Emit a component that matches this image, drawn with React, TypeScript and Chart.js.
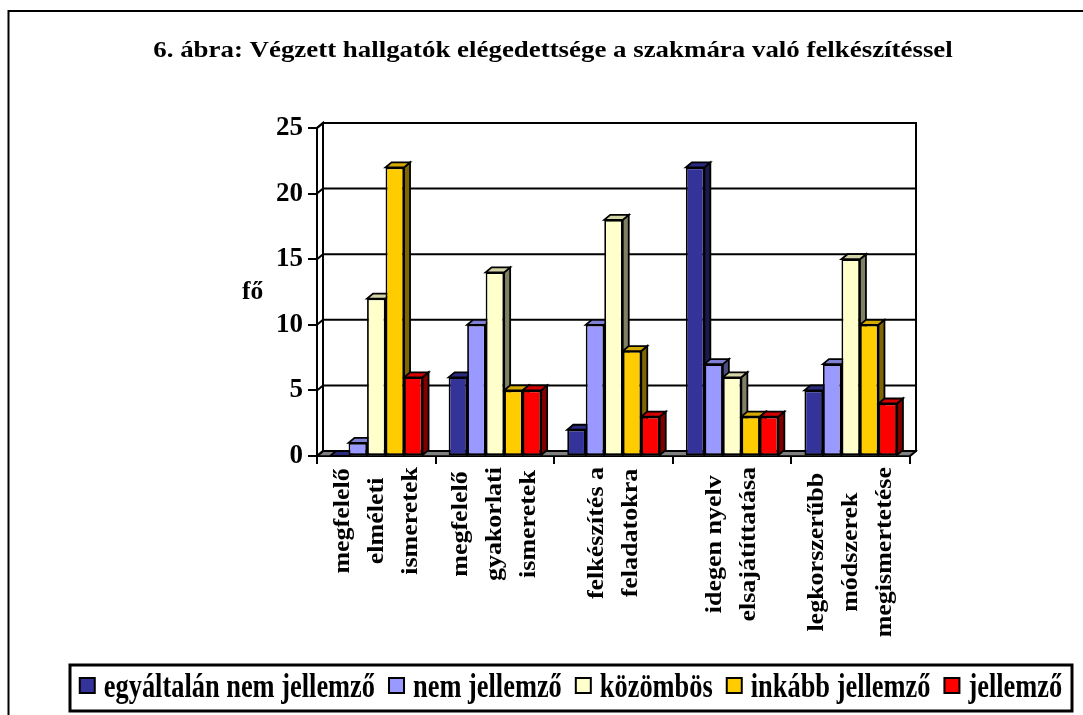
import React, { useEffect, useRef } from "react";
import { Chart, registerables } from "chart.js";
Chart.register(...registerables);

const FONT = '"Liberation Serif", "Times New Roman", Times, serif';

const titleText = "6. ábra: Végzett hallgatók elégedettsége a szakmára való felkészítéssel";
const yAxisTitle = "fő";
const categories: string[][] = [
  ["megfelelő", "elméleti", "ismeretek"],
  ["megfelelő", "gyakorlati", "ismeretek"],
  ["felkészítés a", "feladatokra"],
  ["idegen nyelv", "elsajátíttatása"],
  ["legkorszerűbb", "módszerek", "megismertetése"],
];
const seriesNames = ["egyáltalán nem jellemző", "nem jellemző", "közömbös", "inkább jellemző", "jellemző"];
const seriesColors = ["#333399", "#9999FF", "#FFFFCC", "#FFCC00", "#FF0000"];
const egyaltalanNem = [0, 6, 2, 22, 5];
const nemJellemzo = [1, 10, 10, 7, 7];
const kozombos = [12, 14, 18, 6, 15];
const inkabbJellemzo = [22, 5, 8, 3, 10];
const jellemzo = [6, 5, 3, 3, 4];
const seriesValues = [egyaltalanNem, nemJellemzo, kozombos, inkabbJellemzo, jellemzo];
const yMin = 0;
const yMax = 25;
const yStep = 5;

const DX = 6;
const DY = -5;

function shade(hex: string, f: number): string {
  const n = parseInt(hex.slice(1), 16);
  const r = Math.round(((n >> 16) & 255) * f);
  const g = Math.round(((n >> 8) & 255) * f);
  const b = Math.round((n & 255) * f);
  return `rgb(${r},${g},${b})`;
}

function poly(ctx: CanvasRenderingContext2D, pts: number[][], fill: string | null, stroke = "#000", lw = 1.5) {
  ctx.beginPath();
  ctx.moveTo(pts[0][0], pts[0][1]);
  for (let i = 1; i < pts.length; i++) ctx.lineTo(pts[i][0], pts[i][1]);
  ctx.closePath();
  if (fill) {
    ctx.fillStyle = fill;
    ctx.fill();
  }
  ctx.lineWidth = lw;
  ctx.strokeStyle = stroke;
  ctx.lineJoin = "miter";
  ctx.stroke();
}

function stretchedText(
  ctx: CanvasRenderingContext2D,
  text: string,
  x: number,
  y: number,
  size: number,
  sx: number,
  align: CanvasTextAlign,
  baseline: CanvasTextBaseline = "alphabetic"
) {
  ctx.save();
  ctx.translate(x, y);
  ctx.scale(sx, 1);
  ctx.font = `bold ${size}px ${FONT}`;
  ctx.fillStyle = "#000";
  ctx.textAlign = align;
  ctx.textBaseline = baseline;
  ctx.fillText(text, 0, 0);
  ctx.restore();
}

const threeDPlugin = {
  id: "threeD",
  beforeDatasetsDraw(chart: any) {
    const { ctx, chartArea: a, scales } = chart;
    const y = scales.y;
    ctx.save();
    // floor
    poly(ctx, [[a.left, a.bottom], [a.right, a.bottom], [a.right + DX, a.bottom + DY], [a.left + DX, a.bottom + DY]], "#808080", "#000", 1.5);
    // left wall
    poly(ctx, [[a.left, a.bottom], [a.left, a.top], [a.left + DX, a.top + DY], [a.left + DX, a.bottom + DY]], "#ffffff", "#000", 2);
    // back wall
    poly(ctx, [[a.left + DX, a.top + DY], [a.right + DX, a.top + DY], [a.right + DX, a.bottom + DY], [a.left + DX, a.bottom + DY]], null, "#000", 2);
    // gridlines on back wall
    ctx.lineWidth = 2;
    ctx.strokeStyle = "#000";
    for (let v = yMin; v <= yMax; v += yStep) {
      const py = y.getPixelForValue(v);
      ctx.beginPath();
      ctx.moveTo(a.left, py);
      ctx.lineTo(a.left + DX, py + DY);
      ctx.lineTo(a.right + DX, py + DY);
      ctx.stroke();
    }
    // right floor edge
    ctx.beginPath();
    ctx.moveTo(a.right, a.bottom);
    ctx.lineTo(a.right + DX, a.bottom + DY);
    ctx.stroke();

    // bar side & top faces
    const bars: { x: number; top: number; base: number; w: number; c: string }[] = [];
    chart.data.datasets.forEach((ds: any, di: number) => {
      const meta = chart.getDatasetMeta(di);
      meta.data.forEach((el: any) => {
        bars.push({ x: el.x, top: el.y, base: el.base, w: el.width, c: seriesColors[di] });
      });
    });
    bars.sort((p, q) => p.x - q.x);
    for (const b of bars) {
      const L = b.x - b.w / 2;
      const R = b.x + b.w / 2;
      if (b.base - b.top > 0.5) {
        poly(ctx, [[R, b.top], [R + DX, b.top + DY], [R + DX, b.base + DY], [R, b.base]], shade(b.c, 0.5), "#000", 1.8);
      }
      poly(ctx, [[L, b.top], [R, b.top], [R + DX, b.top + DY], [L + DX, b.top + DY]], shade(b.c, 0.83), "#000", 1.8);
    }
    ctx.restore();
  },
  afterDraw(chart: any) {
    const { ctx, scales } = chart;
    const x = scales.x;
    ctx.save();
    // outer frame
    ctx.lineWidth = 2;
    ctx.strokeStyle = "#000";
    ctx.strokeRect(8.5, 11, 1100, 720);

    // title
    stretchedText(ctx, titleText, 553, 57, 24, 1.12, "center");
    // y axis title
    stretchedText(ctx, yAxisTitle, 242, 299, 25, 1.02, "left");

    // category labels (rotated)
    const across = 24;
    const sxAlong = 26 / across;
    const spacing = 34;
    ctx.font = `bold ${across}px ${FONT}`;
    categories.forEach((lines, i) => {
      const cx = x.getPixelForValue(i);
      let maxW = 0;
      lines.forEach((l) => {
        maxW = Math.max(maxW, ctx.measureText(l).width * sxAlong);
      });
      const cy = 467 + maxW / 2;
      lines.forEach((l, k) => {
        const off = (k - (lines.length - 1) / 2) * spacing;
        ctx.save();
        ctx.translate(cx + off, cy);
        ctx.rotate(-Math.PI / 2);
        ctx.scale(sxAlong, 1);
        ctx.font = `bold ${across}px ${FONT}`;
        ctx.fillStyle = "#000";
        ctx.textAlign = "center";
        ctx.textBaseline = "middle";
        ctx.fillText(l, 0, 0);
        ctx.restore();
      });
    });

    // legend
    const lSize = 33;
    const lsx = 0.8;
    const boxL = 70, boxT = 665, boxR = 1072, boxB = 711;
    ctx.lineWidth = 3;
    ctx.strokeStyle = "#000";
    ctx.strokeRect(boxL, boxT, boxR - boxL, boxB - boxT);
    ctx.font = `bold ${lSize}px ${FONT}`;
    const widths = seriesNames.map((n) => ctx.measureText(n).width * lsx);
    const sq = 15;
    const gapText = 9;
    const gapItem = 14;
    let total = 0;
    widths.forEach((w, i) => {
      total += sq + gapText + w + (i < widths.length - 1 ? gapItem : 0);
    });
    let cur = (boxL + boxR) / 2 - total / 2;
    seriesNames.forEach((n, i) => {
      ctx.fillStyle = seriesColors[i];
      ctx.fillRect(cur, 678, sq, sq);
      ctx.lineWidth = 2;
      ctx.strokeStyle = "#000";
      ctx.strokeRect(cur, 678, sq, sq);
      stretchedText(ctx, n, cur + sq + gapText, 697, lSize, lsx, "left");
      cur += sq + gapText + widths[i] + gapItem;
    });
    ctx.restore();
  },
};

export default function App() {
  const ref = useRef<HTMLCanvasElement | null>(null);
  useEffect(() => {
    if (!ref.current) return;
    const chart = new Chart(ref.current, {
      type: "bar",
      data: {
        labels: categories,
        datasets: seriesNames.map((name, i) => ({
          label: name,
          data: seriesValues[i],
          backgroundColor: seriesColors[i],
          borderColor: "#000",
          borderWidth: 1.8,
          borderSkipped: false,
          categoryPercentage: 0.78,
          barPercentage: 1.0,
        })),
      },
      options: {
        responsive: false,
        animation: false,
        devicePixelRatio: 1,
        layout: { padding: { top: 128, right: 173, bottom: 239, left: 0 } },
        plugins: {
          legend: { display: false },
          title: { display: false },
          tooltip: { enabled: false },
        },
        scales: {
          x: {
            type: "category",
            ticks: { display: false },
            grid: { offset: true, drawOnChartArea: false, drawTicks: true, tickLength: 8, color: "#000", lineWidth: 2 },
            border: { display: true, color: "#000", width: 2 },
            afterFit: (s: any) => {
              s.height = 20;
            },
          },
          y: {
            type: "linear",
            min: yMin,
            max: yMax,
            ticks: {
              stepSize: yStep,
              color: "#000",
              padding: 5,
              font: { family: FONT, size: 27, weight: "bold" },
            },
            grid: { drawOnChartArea: false, drawTicks: true, tickLength: 9, color: "#000", lineWidth: 2 },
            border: { display: true, color: "#000", width: 2 },
            afterFit: (s: any) => {
              s.width = 317;
            },
          },
        },
      },
      plugins: [threeDPlugin],
    } as any);
    return () => chart.destroy();
  }, []);
  return (
    <div style={{ position: "absolute", left: 0, top: 0, width: 1083, height: 715, background: "#fff" }}>
      <canvas ref={ref} width={1083} height={715} style={{ display: "block" }} />
    </div>
  );
}
